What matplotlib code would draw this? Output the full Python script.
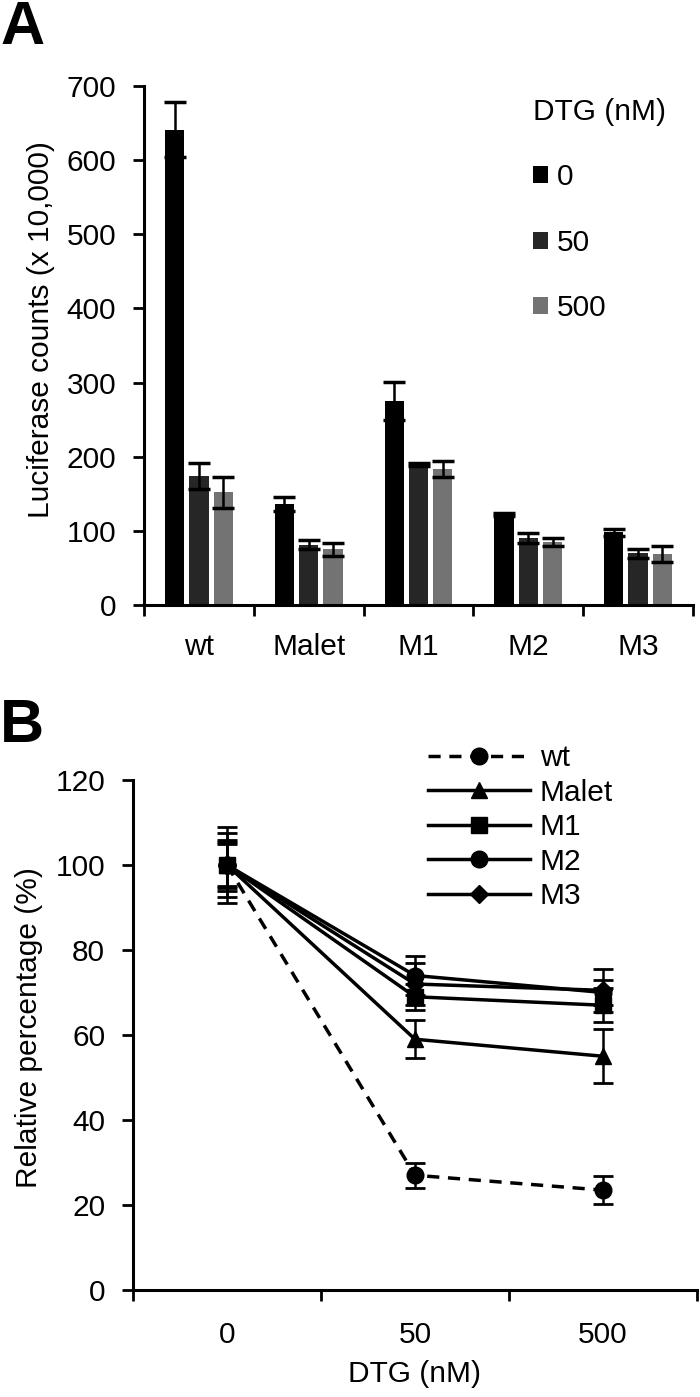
import matplotlib.pyplot as plt
import numpy as np

plt.rcParams['font.family'] = ['Liberation Sans', 'DejaVu Sans']

# painel A - contagens de luciferase (x 10.000)
grupos = ['wt', 'Malet', 'M1', 'M2', 'M3']
doses = ['0', '50', '500']
luc_0 = [641, 136, 275, 122, 98]
luc_0_err = [37, 9, 26, 2, 5]
luc_50 = [174, 81, 190, 90, 70]
luc_50_err = [18, 6, 2, 7, 6]
luc_500 = [152, 75, 183, 85, 69]
luc_500_err = [21, 9, 11, 6, 11]
cores_barras = ['#000000', '#262626', '#737373']

# painel B - porcentagem relativa
dtg = ['0', '50', '500']
rel_wt = [100, 27, 23.5]
rel_wt_err = [9, 3, 3.3]
rel_malet = [100, 59, 55]
rel_malet_err = [7.5, 4.5, 6.3]
rel_m1 = [100, 69, 67]
rel_m1_err = [5.5, 3, 4]
rel_m2 = [100, 74, 70]
rel_m2_err = [5, 4.5, 3]
rel_m3 = [100, 72, 70.5]
rel_m3_err = [6, 5, 5]

W, H = 700, 1397
fs = 21.5
fig = plt.figure(figsize=(W / 100, H / 100), dpi=100)

# ---------- A ----------
axA = fig.add_axes([144 / W, 1 - 605 / H, (693 - 144) / W, (605 - 86) / H])
x = np.arange(len(grupos))
larg = 0.175
desloc = [-0.222, 0, 0.222]
series = [(luc_0, luc_0_err), (luc_50, luc_50_err), (luc_500, luc_500_err)]
barras = []
for (vals, errs), d, c in zip(series, desloc, cores_barras):
    b = axA.bar(x + d, vals, larg, color=c, yerr=errs, capsize=8,
                error_kw=dict(elinewidth=1.8, capthick=2.5, ecolor='black'))
    barras.append(b)

axA.set_xlim(-0.5, 4.5)
axA.set_ylim(0, 700)
axA.set_yticks(range(0, 701, 100))
axA.set_xticks(x, grupos)
axA.set_xticks(np.arange(-0.5, 5, 1), minor=True)
axA.tick_params(axis='x', which='major', length=0, pad=20, labelsize=fs)
axA.tick_params(axis='x', which='minor', length=8, width=2)
axA.tick_params(axis='y', length=8, width=2, labelsize=fs, pad=12)
axA.set_ylabel('Luciferase counts (x 10,000)', fontsize=fs)
axA.yaxis.set_label_coords(-0.162, 0.53)
for s in ['top', 'right']:
    axA.spines[s].set_visible(False)
for s in ['left', 'bottom']:
    axA.spines[s].set_linewidth(2.2)

legA = axA.legend(barras, doses, title='DTG (nM)', loc='upper left',
                  bbox_to_anchor=(533 / W, 1 - 98 / H), bbox_transform=fig.transFigure,
                  frameon=False, fontsize=fs, title_fontsize=fs, handlelength=0.5,
                  handleheight=0.5, handletextpad=0.3, labelspacing=1.25,
                  borderpad=0, borderaxespad=0, alignment='left')

fig.text(0.0, 1.0, 'A', fontsize=44, fontweight='bold', ha='left', va='top')

# ---------- B ----------
axB = fig.add_axes([133 / W, 1 - 1290 / H, (697 - 133) / W, (1290 - 780) / H])
xb = np.arange(len(dtg))
linhas = [
    ('wt', rel_wt, rel_wt_err, 'o', 12, (0, (3.5, 2.5))),
    ('Malet', rel_malet, rel_malet_err, '^', 12, '-'),
    ('M1', rel_m1, rel_m1_err, 's', 11, '-'),
    ('M2', rel_m2, rel_m2_err, 'o', 12, '-'),
    ('M3', rel_m3, rel_m3_err, 'D', 9, '-'),
]
handles = []
for nome, vals, errs, mk, ms, ls in linhas:
    c = axB.errorbar(xb, vals, yerr=errs, color='black', marker=mk, markersize=ms,
                     linestyle=ls, linewidth=2.5, capsize=7, elinewidth=1.8,
                     capthick=2, label=nome)
    handles.append(c[0])

axB.set_xlim(-0.5, 2.5)
axB.set_ylim(0, 120)
axB.set_yticks(range(0, 121, 20))
axB.set_xticks(xb, dtg)
axB.set_xticks(np.arange(-0.5, 3, 1), minor=True)
axB.tick_params(axis='x', which='major', length=0, pad=22, labelsize=fs)
axB.tick_params(axis='x', which='minor', length=8, width=2)
axB.tick_params(axis='y', length=8, width=2, labelsize=fs, pad=12)
axB.set_ylabel('Relative percentage (%)', fontsize=fs)
axB.yaxis.set_label_coords(-0.16, 0.514)
axB.set_xlabel('DTG (nM)', fontsize=fs, labelpad=8)
for s in ['top', 'right']:
    axB.spines[s].set_visible(False)
for s in ['left', 'bottom']:
    axB.spines[s].set_linewidth(2.2)

axB.legend(handles, [l[0] for l in linhas], loc='upper left',
           bbox_to_anchor=(428 / W, 1 - 744 / H), bbox_transform=fig.transFigure,
           frameon=False, fontsize=fs, handlelength=3.4, handletextpad=0.35,
           labelspacing=0.22, borderpad=0, borderaxespad=0)

fig.text(0.0, 1 - 698 / H, 'B', fontsize=44, fontweight='bold', ha='left', va='top')

fig.savefig('out.png', dpi=100)
